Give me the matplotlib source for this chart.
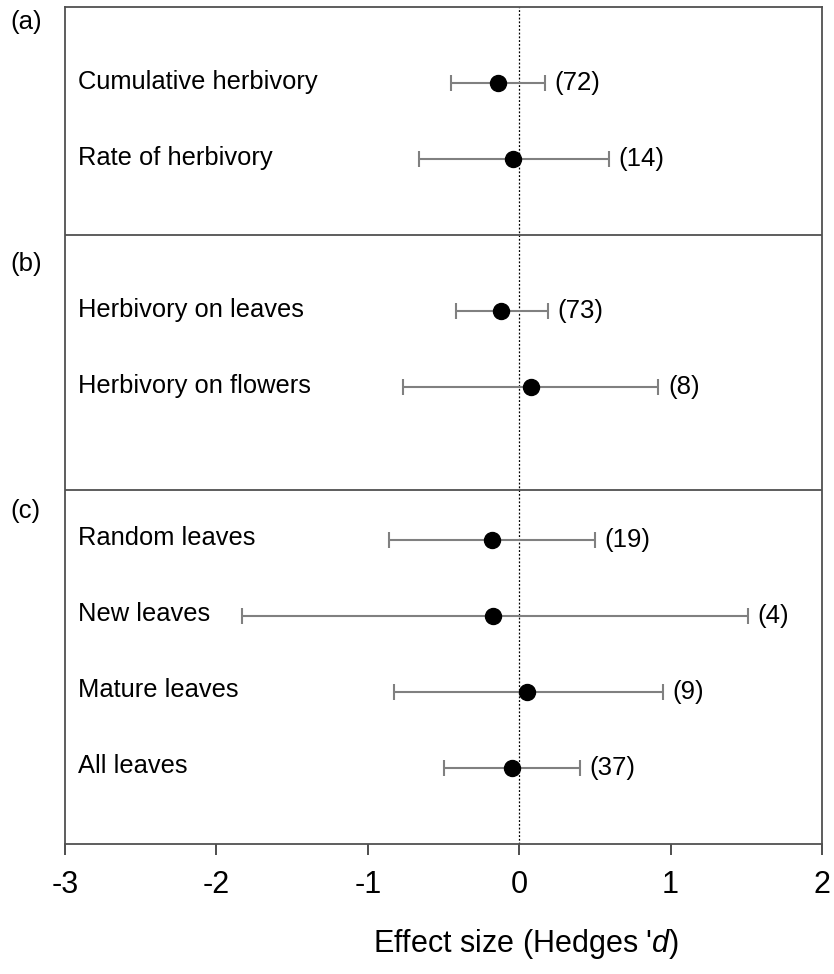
import numpy as np
import matplotlib
matplotlib.use("Agg")
import matplotlib.pyplot as plt

plt.rcParams['font.family'] = ['Liberation Sans', 'DejaVu Sans']
plt.rcParams['mathtext.fontset'] = 'custom'
plt.rcParams['mathtext.rm'] = 'Liberation Sans'
plt.rcParams['mathtext.it'] = 'Liberation Sans:italic'

# data
labels = ["Cumulative herbivory", "Rate of herbivory",
          "Herbivory on leaves", "Herbivory on flowers",
          "Random leaves", "New leaves", "Mature leaves", "All leaves"]
effect = [-0.14, -0.04, -0.12, 0.08, -0.18, -0.17, 0.05, -0.05]
ci_low = [-0.45, -0.66, -0.42, -0.77, -0.86, -1.83, -0.83, -0.50]
ci_high = [0.17, 0.59, 0.19, 0.92, 0.50, 1.51, 0.95, 0.40]
n_studies = [72, 14, 73, 8, 19, 4, 9, 37]
rows = [1, 2, 4, 5, 7, 8, 9, 10]
panel_names = ["(a)", "(b)", "(c)"]
panel_tops = [0, 3, 6.35]
dividers = [3, 6.35]

fig = plt.figure(figsize=(8.34, 9.74), dpi=100)
ax = fig.add_axes([65/834, 1 - 844/974, (822-65)/834, (844-7)/974])

effect = np.array(effect)
lo = effect - np.array(ci_low)
hi = np.array(ci_high) - effect
ax.errorbar(effect, rows, xerr=[lo, hi], fmt='none', ecolor='#808080',
            elinewidth=1.5, capsize=6, capthick=1.5, zorder=2)
ax.plot(effect, rows, 'o', color='black', markersize=11.5, zorder=3)

ax.axvline(0, color='black', linestyle=(0, (1.5, 1.5)), linewidth=0.9, zorder=1)
for d in dividers:
    ax.axhline(d, color='#505050', linewidth=1.3)

for lab, r, hh, n in zip(labels, rows, ci_high, n_studies):
    ax.text(-2.915, r - 0.02, lab, fontsize=18.4, va='center', ha='left')
    ax.annotate("(%d)" % n, xy=(hh, r), xytext=(7, 0), textcoords='offset points',
                fontsize=18.5, va='center', ha='left')

# vertical offsets (pt) of the panel letters below each panel top
letter_dy = [-10.5, -20.5, -15]
for name, top, dy in zip(panel_names, panel_tops, letter_dy):
    ax.annotate(name, xy=(0, top), xycoords=('axes fraction', 'data'),
                xytext=(-39, dy), textcoords='offset points',
                fontsize=18.5, va='center', ha='left', annotation_clip=False)

ax.set_xlim(-3, 2)
ax.set_ylim(11, 0)
ax.set_yticks([])
ax.set_xticks([-3, -2, -1, 0, 1, 2])
ax.set_xticklabels(["-3", "-2", "-1", "0", "1", "2"])
ax.tick_params(axis='x', length=8, width=1.3, labelsize=22, pad=11, color='#404040')
for s in ax.spines.values():
    s.set_color('#505050')
    s.set_linewidth(1.3)

fig.text(526/834, 1 - 944/974, "Effect size (Hedges '$\\mathit{d}$)", fontsize=22,
         ha='center', va='center')

fig.savefig("out.png", dpi=100)
